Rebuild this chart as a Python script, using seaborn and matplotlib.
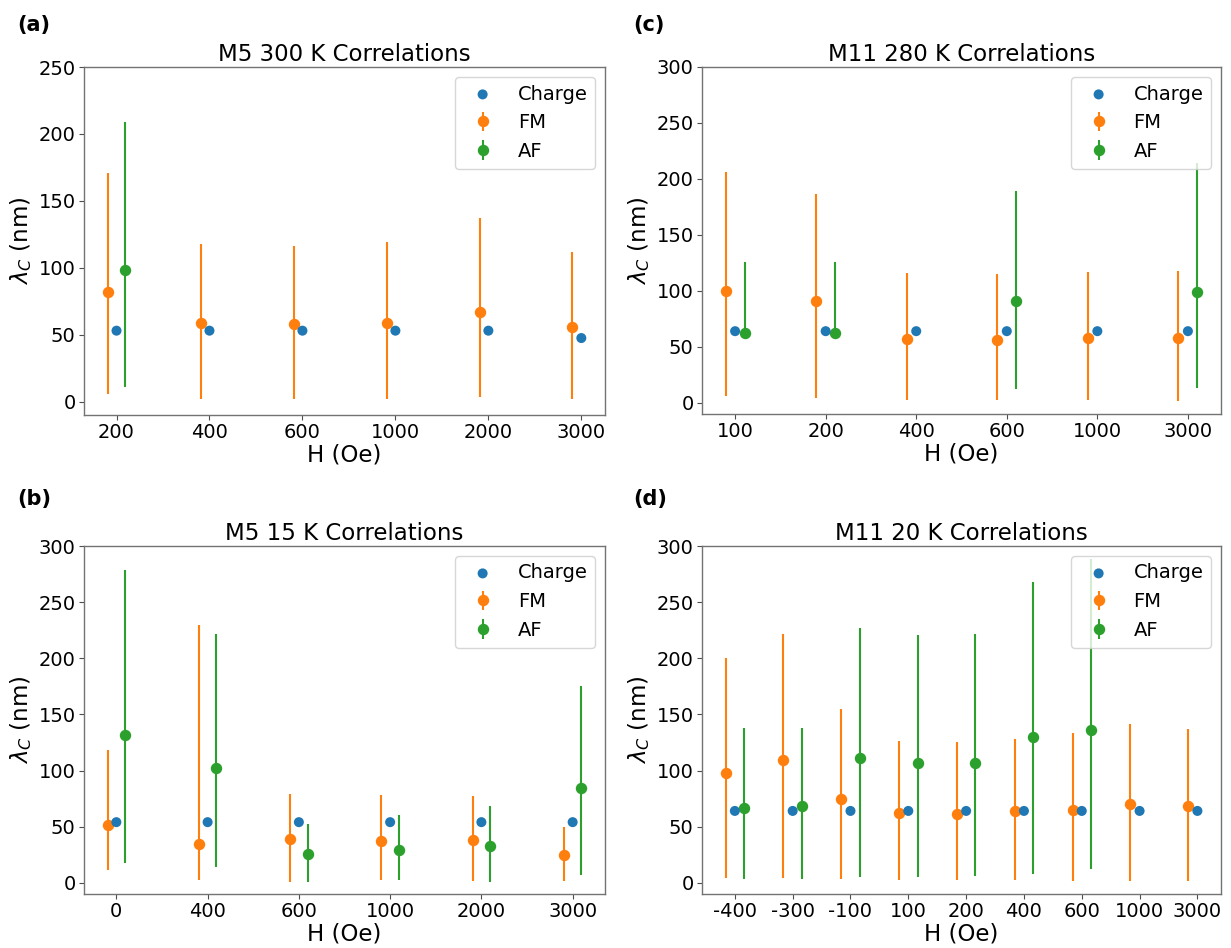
import numpy as np
import matplotlib
matplotlib.use("Agg")
import matplotlib.pyplot as plt
import seaborn as sns

sns.set_style("ticks")
plt.rcParams['font.family'] = ['DejaVu Sans']
plt.rcParams['text.color'] = 'black'
plt.rcParams['axes.labelcolor'] = 'black'

# ---------------- data ----------------
# (a) M5 300 K
a_fields = ["200", "400", "600", "1000", "2000", "3000"]
a_charge = [53, 53, 53, 53, 53, 47.5]
a_fm = [82, 59, 58, 59, 67, 55.5]
a_fm_lo = [6, 2, 2, 2, 3.5, 2]
a_fm_hi = [171, 118, 116, 119, 137, 112]
a_af = [98, np.nan, np.nan, np.nan, np.nan, np.nan]
a_af_lo = [11, np.nan, np.nan, np.nan, np.nan, np.nan]
a_af_hi = [209, np.nan, np.nan, np.nan, np.nan, np.nan]

# (b) M5 15 K
b_fields = ["0", "400", "600", "1000", "2000", "3000"]
b_charge = [54, 54, 54, 54, 54, 54]
b_fm = [51.5, 34.5, 39, 37, 38.5, 24.5]
b_fm_lo = [11, 2.4, 1, 2.4, 1.8, 1.8]
b_fm_hi = [118, 230, 79, 78, 77.5, 50]
b_af = [132, 102.5, 25.5, 29, 33, 84]
b_af_lo = [18, 14, 1, 2.4, 1, 7]
b_af_hi = [279, 221.5, 52, 60, 68.5, 175]

# (c) M11 280 K
c_fields = ["100", "200", "400", "600", "1000", "3000"]
c_charge = [64, 64, 64, 64, 64, 64]
c_fm = [100, 91, 57, 56, 57.5, 58]
c_fm_lo = [6, 4, 2.4, 2.4, 2.4, 1.5]
c_fm_hi = [206, 186.5, 116, 115, 117, 118]
c_af = [62, 62, np.nan, 91, np.nan, 99]
c_af_lo = [62, 62, np.nan, 12, np.nan, 13]
c_af_hi = [125.5, 125.5, np.nan, 189.5, np.nan, 214]

# (d) M11 20 K
d_fields = ["-400", "-300", "-100", "100", "200", "400", "600", "1000", "3000"]
d_charge = [64, 64, 64, 64, 64, 64, 64, 64, 64]
d_fm = [97.5, 109, 74.5, 62, 61, 64, 65, 70, 68]
d_fm_lo = [4, 4, 3, 2.4, 2.4, 2.4, 1.8, 1.8, 1.8]
d_fm_hi = [200, 222, 155, 126, 125, 128.5, 133, 141, 137]
d_af = [67, 68.5, 111, 107, 107, 130, 136, np.nan, np.nan]
d_af_lo = [3, 3, 5, 5, 6, 7.4, 12, np.nan, np.nan]
d_af_hi = [137.5, 138, 227, 220.5, 222, 267.5, 288, np.nan, np.nan]

panels = [
    ("(a)", "M5 300 K Correlations", a_fields, a_charge, a_fm, a_fm_lo, a_fm_hi, a_af, a_af_lo, a_af_hi, 250, 0.095),
    ("(c)", "M11 280 K Correlations", c_fields, c_charge, c_fm, c_fm_lo, c_fm_hi, c_af, c_af_lo, c_af_hi, 300, 0.105),
    ("(b)", "M5 15 K Correlations", b_fields, b_charge, b_fm, b_fm_lo, b_fm_hi, b_af, b_af_lo, b_af_hi, 300, 0.095),
    ("(d)", "M11 20 K Correlations", d_fields, d_charge, d_fm, d_fm_lo, d_fm_hi, d_af, d_af_lo, d_af_hi, 300, 0.16),
]

W, H = 1231, 948
fig = plt.figure(figsize=(W / 100, H / 100), dpi=100)

rects = [
    (84, 67, 605, 415),
    (702, 67, 1221, 414),
    (84, 546, 605, 894),
    (702, 546, 1221, 894),
]
label_pos = [(17, 25), (633, 25), (17, 499), (633, 499)]

pal = sns.color_palette("tab10")
c_blue, c_orange, c_green = pal[0], pal[1], pal[2]

for (lab, title, fields, charge, fm, fm_lo, fm_hi, af, af_lo, af_hi, ytop, off), r, lp in zip(panels, rects, label_pos):
    x0, y0, x1, y1 = r
    ax = fig.add_axes([x0 / W, 1 - y1 / H, (x1 - x0) / W, (y1 - y0) / H])
    n = len(fields)
    xs = np.arange(n)
    charge = np.array(charge, float)
    fm = np.array(fm, float); fm_lo = np.array(fm_lo, float); fm_hi = np.array(fm_hi, float)
    af = np.array(af, float); af_lo = np.array(af_lo, float); af_hi = np.array(af_hi, float)

    sns.scatterplot(x=xs, y=charge, ax=ax, color=c_blue, s=52, edgecolor="none",
                    label="Charge", zorder=3)
    ax.errorbar(xs - off, fm, yerr=[fm - fm_lo, fm_hi - fm], fmt="o", color=c_orange,
                ms=7.2, elinewidth=1.5, label="FM", zorder=2)
    m = ~np.isnan(af)
    ax.errorbar(xs[m] + off, af[m], yerr=[af[m] - af_lo[m], af_hi[m] - af[m]], fmt="o",
                color=c_green, ms=7.2, elinewidth=1.5, label="AF", zorder=2)

    ax.set_xticks(xs)
    ax.set_xticklabels(fields)
    ax.set_ylim(-10, ytop)
    ax.set_yticks(np.arange(0, ytop + 1, 50))
    ax.tick_params(labelsize=14, length=3.5, pad=2.5, color="0.3", labelcolor="black")
    for s in ax.spines.values():
        s.set_color("0.45")
        s.set_linewidth(1.0)
    ax.set_title(title, fontsize=16.5, pad=4)
    ax.set_xlabel("H (Oe)", fontsize=16.5, labelpad=1)
    ax.set_ylabel(r"$\lambda_C$ (nm)", fontsize=16.5, labelpad=3)
    ax.legend(loc="upper right", fontsize=14, framealpha=0.8)
    fig.text(lp[0] / W, 1 - lp[1] / H, lab, fontsize=15, fontweight="bold",
             ha="left", va="center")

fig.savefig("out.png", dpi=100)
